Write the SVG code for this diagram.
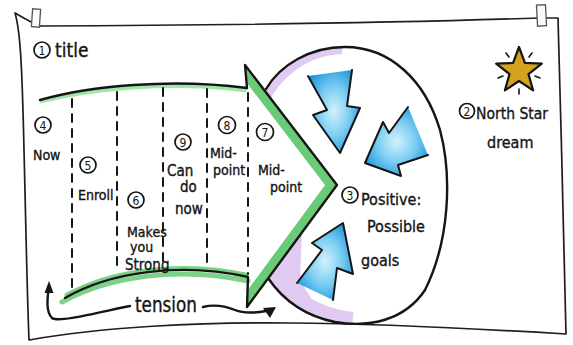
<svg xmlns="http://www.w3.org/2000/svg" width="573" height="345" viewBox="0 0 573 345">
<style>
.ink{fill:none;stroke:#151515;stroke-width:2.4;stroke-linecap:round;stroke-linejoin:round}
.paper{fill:none;stroke:#1e1e1e;stroke-width:1.7;stroke-linecap:round;stroke-linejoin:round}
.dash{fill:none;stroke:#151515;stroke-width:2;stroke-dasharray:8 7;stroke-linecap:round}
.t{font-family:"Liberation Sans Narrow","DejaVu Sans Condensed","Liberation Sans",sans-serif;fill:#151515;stroke:#151515;stroke-width:0.35}
.num{fill:none;stroke:#151515;stroke-width:1.7}
.nt{font-family:"Liberation Sans Narrow","DejaVu Sans Condensed","Liberation Sans",sans-serif;font-size:12px;fill:#151515;text-anchor:middle}
.bfill{fill:url(#bg);stroke:none}
.bline{fill:none;stroke:#151515;stroke-width:2;stroke-linejoin:round;stroke-linecap:round}
.tape{fill:#fafafa;stroke:#555;stroke-width:1.3}
</style>
<defs>
  <radialGradient id="bg" cx="0.5" cy="0.5" r="0.6">
    <stop offset="0" stop-color="#d4f1fc"/>
    <stop offset="0.5" stop-color="#7acdf2"/>
    <stop offset="1" stop-color="#1892da"/>
  </radialGradient>
  <clipPath id="arrClip"><path d="M 40,100 C 90,86 170,78 247,88 L 245,65 L 337,185 L 247,307 L 248,277 C 180,262 110,272 65,298 Z"/></clipPath>
  <clipPath id="ellClip"><path d="M 266,89 C 280,65 310,47 345,47 C 390,47 425,80 440,130 C 452,175 450,240 425,290 C 405,320 370,328 335,322 C 305,316 283,300 268,278 Z"/></clipPath>
</defs>

<!-- paper -->
<g id="paper">
  <path class="paper" d="M 15,13 C 20,30 22,60 24,150 C 26,230 27,290 29,340 C 100,327 200,322 290,323 C 400,324 500,330 566,334 C 564,250 561,120 558,18 L 540,18 C 420,22 300,25 40,26 C 30,22 22,17 15,13 Z"/>
  <rect class="tape" x="32" y="9" width="8" height="18" transform="rotate(4 36 18)"/>
  <rect class="tape" x="537" y="5" width="9" height="21" transform="rotate(-3 541 15)"/>
</g>

<!-- goals circle with purple shading -->
<g id="goals">
  <g clip-path="url(#ellClip)" opacity="0.55">
    <path d="M 258,104 C 272,70 305,46 342,45" fill="none" stroke="#c79ee6" stroke-width="18"/>
    <path d="M 258,262 C 278,302 310,324 352,328" fill="none" stroke="#c79ee6" stroke-width="32"/>
    <path d="M 302,230 L 262,285 L 300,312 L 312,300 L 300,280 Z" fill="#c79ee6"/>
  </g>
  <path class="ink" d="M 266,89 C 280,65 310,47 345,47 C 390,47 425,80 440,130 C 452,175 450,240 425,290 C 405,320 370,328 335,322 C 305,316 283,300 268,278"/>
  <circle class="num" cx="350" cy="195" r="8"/>
  <text class="nt" x="350" y="199.5">3</text>
  <text class="t" x="361" y="205" font-size="16">Positive:</text>
  <text class="t" x="367" y="232" font-size="16">Possible</text>
  <text class="t" x="361" y="266" font-size="16">goals</text>
</g>

<!-- journey arrow -->
<g id="journey-arrow">
  <path d="M 40,100 C 90,86 170,78 247,88 L 245,65 L 337,185 L 247,307 L 248,277 C 180,262 110,272 65,298 Z" fill="#fff"/>
  <g clip-path="url(#arrClip)">
    <path d="M 36,100 C 90,86 170,78 247,88" fill="none" stroke="#8fe09a" stroke-width="9" opacity="0.85"/>
    <path d="M 245,65 L 337,185 L 247,307" fill="none" stroke="#4fc25e" stroke-width="19" opacity="0.85"/>
    <path d="M 248,277 C 180,262 110,272 65,298" fill="none" stroke="#56c464" stroke-width="8" opacity="0.8"/>
  </g>
  <path d="M 248,281 C 180,266 110,276 62,302" fill="none" stroke="#5cc769" stroke-width="5" opacity="0.8" stroke-linecap="round"/>
  <path class="ink" d="M 40,100 C 90,86 170,78 247,88 L 245,65 L 337,185 L 247,307 L 248,277 C 180,262 110,272 65,298"/>
  <line class="dash" x1="72" y1="99" x2="72" y2="290"/>
  <line class="dash" x1="117" y1="92" x2="117" y2="270"/>
  <line class="dash" x1="163" y1="88" x2="163" y2="266"/>
  <line class="dash" x1="207" y1="89" x2="207" y2="266"/>
  <line class="dash" x1="248" y1="93" x2="248" y2="274"/>
</g>

<g id="step-4">
  <circle class="num" cx="43" cy="125" r="8"/>
  <text class="nt" x="43" y="129.5">4</text>
  <text class="t" x="33" y="160" font-size="14">Now</text>
</g>
<g id="step-5">
  <circle class="num" cx="88" cy="165" r="8"/>
  <text class="nt" x="88" y="169.5">5</text>
  <text class="t" x="78" y="200" font-size="14">Enroll</text>
</g>
<g id="step-6">
  <circle class="num" cx="136" cy="200" r="8"/>
  <text class="nt" x="136" y="204.5">6</text>
  <text class="t" x="127" y="237" font-size="14">Makes</text>
  <text class="t" x="130" y="252" font-size="14">you</text>
  <text class="t" x="125" y="270" font-size="15">Strong</text>
</g>
<g id="step-9">
  <circle class="num" cx="183" cy="142" r="8"/>
  <text class="nt" x="183" y="146.5">9</text>
  <text class="t" x="167" y="176" font-size="15">Can</text>
  <text class="t" x="180" y="192" font-size="15">do</text>
  <text class="t" x="175" y="214" font-size="15">now</text>
</g>
<g id="step-8">
  <circle class="num" cx="227" cy="125" r="8.5"/>
  <text class="nt" x="227" y="129.5">8</text>
  <text class="t" x="210" y="158" font-size="14">Mid-</text>
  <text class="t" x="213" y="175" font-size="14">point</text>
</g>
<g id="step-7">
  <circle class="num" cx="265" cy="132" r="8.5"/>
  <text class="nt" x="265" y="136.5">7</text>
  <text class="t" x="258" y="175" font-size="14">Mid-</text>
  <text class="t" x="270" y="192" font-size="14">point</text>
</g>

<g id="title">
  <circle class="num" cx="42" cy="50" r="8"/>
  <text class="nt" x="42" y="54.5">1</text>
  <text class="t" x="55" y="57" font-size="19">title</text>
</g>

<g id="north-star">
  <polygon points="519,47 524.9,62.9 541.8,63.6 528.5,74.1 533.1,90.4 519,81 504.9,90.4 509.5,74.1 496.2,63.6 513.1,62.9" fill="#d4a21f" stroke="#151515" stroke-width="2.2" stroke-linejoin="round"/>
  <g stroke="#151515" stroke-width="1.6" stroke-linecap="round">
    <line x1="529" y1="57" x2="532" y2="53"/>
    <line x1="509" y1="57" x2="506" y2="53"/>
    <line x1="535" y1="76" x2="540" y2="78"/>
    <line x1="503" y1="76" x2="498" y2="78"/>
    <line x1="519" y1="89" x2="519" y2="94"/>
  </g>
  <circle class="num" cx="467" cy="111" r="7.5"/>
  <text class="nt" x="467" y="115.5">2</text>
  <text class="t" x="476" y="119" font-size="16" textLength="72" lengthAdjust="spacingAndGlyphs">North Star</text>
  <text class="t" x="487" y="148" font-size="16">dream</text>
</g>

<!-- connectors -->
<g id="connectors">
  <polygon class="bfill" points="352,70 308,76 327,110 313,115 340,153 360,108 347,106"/>
  <path class="bline" d="M 308,76 L 327,110 L 313,115 L 340,153 L 360,108 L 347,106 L 352,70"/>
  <polygon class="bfill" points="428,155 408,107 389,133 383,122 365,163 401,176 398,165"/>
  <path class="bline" d="M 408,107 L 389,133 L 383,122 L 365,163 L 401,176 L 398,165 L 428,155"/>
  <polygon class="bfill" points="333,300 297,283 322,250 312,243 343,223 353,274 337,268"/>
  <path class="bline" d="M 297,283 L 322,250 L 312,243 L 343,223 L 353,274 L 337,268 L 333,300"/>
  <path class="ink" stroke-width="2" d="M 49,286 C 47,300 46,312 52,318 C 58,323 100,312 130,306"/>
  <path class="ink" stroke-width="2" d="M 203,307 C 215,304 225,306 235,310 C 245,314 255,313 266,311"/>
  <polygon points="44.5,293 49,281 53.5,293" fill="#151515"/>
  <polygon points="263,308 276,307 270,318" fill="#151515"/>
  <text class="t" x="135" y="312" font-size="21" textLength="62" lengthAdjust="spacingAndGlyphs">tension</text>
</g>
</svg>
